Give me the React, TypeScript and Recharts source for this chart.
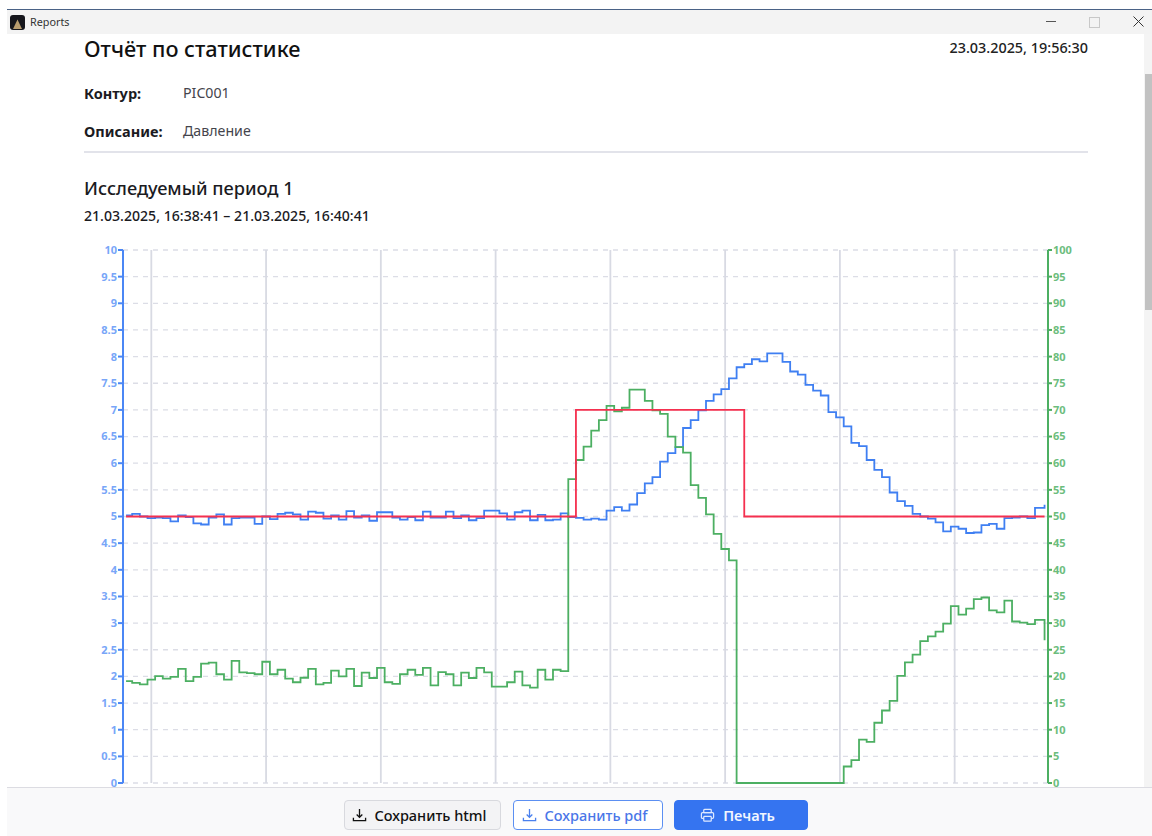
import React from "react";
import { LineChart, Line, XAxis, YAxis, CartesianGrid } from "recharts";

const font = '"Noto Sans", sans-serif';

const pressure = [
  5.02, 5.05, 5.0, 4.97, 4.98, 4.97, 4.91, 5.02, 4.99, 4.87,
  4.85, 4.98, 5.04, 4.85, 4.97, 4.98, 4.98, 4.86, 5.0, 4.95,
  5.05, 5.07, 5.04, 4.94, 5.09, 5.07, 4.96, 5.02, 4.94, 5.1,
  4.98, 5.02, 4.92, 5.08, 5.08, 4.98, 4.94, 4.99, 4.93, 5.09,
  4.98, 4.98, 5.09, 4.97, 5.02, 4.93, 4.97, 5.11, 5.11, 5.06,
  4.94, 5.08, 5.11, 4.93, 5.03, 4.93, 4.94, 5.06, 4.99, 4.975,
  4.94, 4.96, 4.94, 5.11, 5.175, 5.11, 5.225, 5.44, 5.62, 5.74,
  6.03, 6.19, 6.3, 6.66, 6.81, 6.99, 7.17, 7.29, 7.39, 7.59,
  7.8, 7.86, 7.95, 7.91, 8.06, 8.06, 7.9, 7.72, 7.66, 7.47,
  7.36, 7.27, 6.96, 6.86, 6.69, 6.38, 6.32, 6.06, 5.875, 5.74,
  5.45, 5.29, 5.2, 5.05, 5.0, 4.96, 4.89, 4.72, 4.81, 4.77,
  4.69, 4.7, 4.84, 4.86, 4.77, 4.97, 4.98, 5.0, 4.97, 5.16,
  5.22,
];

const output = [
  19.1, 18.8, 18.5, 19.4, 20.05, 19.6, 19.9, 21.4, 19.1, 19.9,
  22.4, 22.6, 20.4, 19.4, 22.9, 20.75, 20.6, 20.4, 22.75, 20.4,
  21.25, 19.6, 18.9, 19.75, 21.4, 18.5, 18.8, 21.1, 20.0, 21.4,
  18.2, 20.7, 19.7, 21.6, 18.9, 18.6, 20.4, 21.25, 20.3, 21.6,
  18.3, 20.8, 20.4, 18.3, 20.7, 19.7, 21.6, 20.75, 18.1, 18.1,
  18.9, 20.9, 18.3, 17.9, 21.25, 19.4, 21.25, 21.0, 57, 60.6,
  63.1, 66.1, 68.1, 70.75, 69.75, 70.4, 73.8, 73.8, 71.7, 69.9,
  69.25, 65, 63, 62, 55.9, 53.5, 50.4, 46.75, 43.9, 41.75,
  0, 0, 0, 0, 0, 0, 0, 0, 0, 0,
  0, 0, 0, 0, 3.1, 4.3, 8.15, 7.7, 11.3, 13.6,
  15.4, 20.1, 22.65, 24.1, 26.6, 27.5, 28.4, 29.9, 33.2, 31.6,
  32.7, 34.5, 34.8, 32.4, 32, 34.2, 30.3, 30.1, 29.8, 30.6,
  26.8,
];

const setpoint = [
  5, 5, 5, 5, 5, 5, 5, 5, 5, 5, 5, 5, 5, 5, 5, 5, 5, 5, 5, 5,
  5, 5, 5, 5, 5, 5, 5, 5, 5, 5, 5, 5, 5, 5, 5, 5, 5, 5, 5, 5,
  5, 5, 5, 5, 5, 5, 5, 5, 5, 5, 5, 5, 5, 5, 5, 5, 5, 5, 5, 7,
  7, 7, 7, 7, 7, 7, 7, 7, 7, 7, 7, 7, 7, 7, 7, 7, 7, 7, 7, 7,
  7, 5, 5, 5, 5, 5, 5, 5, 5, 5, 5, 5, 5, 5, 5, 5, 5, 5, 5, 5,
  5, 5, 5, 5, 5, 5, 5, 5, 5, 5, 5, 5, 5, 5, 5, 5, 5, 5, 5, 5,
  5,
];

const leftTicks = [0, 0.5, 1, 1.5, 2, 2.5, 3, 3.5, 4, 4.5, 5, 5.5, 6, 6.5, 7, 7.5, 8, 8.5, 9, 9.5, 10];
const rightTicks = [0, 5, 10, 15, 20, 25, 30, 35, 40, 45, 50, 55, 60, 65, 70, 75, 80, 85, 90, 95, 100];
const timeTicks = [3.7, 18.7, 33.7, 48.7, 63.7, 78.7, 93.7, 108.7];
const timeLabels = ["16:38:45", "16:39:00", "16:39:15", "16:39:30", "16:39:45", "16:40:00", "16:40:15", "16:40:30"];

// samples come once a second, the first and last are cut short by the axis padding
const rows = pressure.map((p, i) => ({
  t: i === 0 ? 0.4 : i === 120 ? 120.45 : i + 0.2,
  pressure: p,
  output: output[i],
  setpoint: setpoint[i],
}));

function Txt({ x, y, size, weight, color, right, children }: any) {
  return (
    <div
      style={{
        position: "absolute",
        left: right ? undefined : x,
        right: right ? 1152 - x : undefined,
        top: y - 15,
        height: 30,
        lineHeight: "30px",
        fontSize: size,
        fontWeight: weight || 400,
        color: color || "#1b1b1f",
        whiteSpace: "nowrap",
      }}
    >
      {children}
    </div>
  );
}

function DownloadIcon({ color }: { color: string }) {
  return (
    <svg width="15" height="15" viewBox="0 0 16 16" fill="none" stroke={color} strokeWidth="1.4">
      <path d="M8 1V9.5M5 7l3 3 3-3" />
      <path d="M1.5 10.5V13.5H14.5V10.5" />
    </svg>
  );
}

function PrintIcon() {
  return (
    <svg width="15" height="15" viewBox="0 0 16 16" fill="none" stroke="#dfe9ff" strokeWidth="1.3">
      <rect x="4" y="1.5" width="8" height="3.5" rx="0.8" />
      <rect x="1.5" y="5" width="13" height="6" rx="1.2" />
      <rect x="4" y="9" width="8" height="5" rx="0.8" fill="#3574f0" />
    </svg>
  );
}

function Btn({ x, w, bg, border, color, weight, icon, children }: any) {
  return (
    <div
      style={{
        position: "absolute",
        left: x,
        top: 800,
        width: w,
        height: 30,
        boxSizing: "border-box",
        paddingRight: 7,
        background: bg,
        border: `1px solid ${border}`,
        borderRadius: 4,
        color,
        fontSize: 14.5,
        fontWeight: weight,
        display: "flex",
        alignItems: "center",
        justifyContent: "center",
        gap: 8,
      }}
    >
      {icon}
      <span>{children}</span>
    </div>
  );
}

export default function App() {
  return (
    <div
      style={{
        position: "fixed",
        left: 0,
        top: 0,
        width: 1152,
        height: 836,
        overflow: "hidden",
        background: "#fff",
        fontFamily: font,
      }}
    >
      {/* window title bar */}
      <div style={{ position: "absolute", left: 7, top: 9, width: 1145, height: 1, background: "#4a6286" }} />
      <div style={{ position: "absolute", left: 7, top: 10, width: 1145, height: 24, background: "#f3f3f3" }} />
      <div style={{ position: "absolute", left: 10, top: 15, width: 15, height: 15, borderRadius: 3, background: "#15161c" }}>
        <svg width="15" height="15" viewBox="0 0 15 15">
          <path d="M7.5 2.5L12 12H3z" fill="#b79c6e" />
        </svg>
      </div>
      <Txt x={30} y={22} size={10.8} color="#333">Reports</Txt>
      <div style={{ position: "absolute", left: 1046, top: 21, width: 10, height: 1, background: "#555" }} />
      <div style={{ position: "absolute", left: 1089, top: 17, width: 9, height: 9, border: "1px solid #c8c8c8" }} />
      <svg style={{ position: "absolute", left: 1133, top: 16 }} width="11" height="11" viewBox="0 0 11 11" stroke="#333" strokeWidth="1">
        <path d="M0.5 0.5L10.5 10.5M10.5 0.5L0.5 10.5" />
      </svg>

      {/* scrollbar */}
      <div style={{ position: "absolute", left: 1144, top: 34, width: 8, height: 754, background: "#f4f4f4" }} />
      <div style={{ position: "absolute", left: 1145, top: 74, width: 7, height: 236, background: "#c2c2c2" }} />

      {/* report header */}
      <Txt x={84} y={49} size={21.7} weight={500} color="#111">Отчёт по статистике</Txt>
      <Txt x={1088} y={48} size={14.4} weight={500} color="#222" right>23.03.2025, 19:56:30</Txt>
      <Txt x={84} y={93} size={14.5} weight={700}>Контур:</Txt>
      <Txt x={183} y={93} size={14.2} color="#44444c">PIC001</Txt>
      <Txt x={84} y={131} size={14.5} weight={700}>Описание:</Txt>
      <Txt x={183} y={131} size={14.2} color="#44444c">Давление</Txt>
      <div style={{ position: "absolute", left: 84, top: 151, width: 1004, height: 2, background: "#e2e3ea" }} />
      <Txt x={84} y={188} size={18.2} weight={500}>Исследуемый период 1</Txt>
      <Txt x={84} y={216} size={14.1} weight={500}>21.03.2025, 16:38:41 – 21.03.2025, 16:40:41</Txt>

      {/* chart */}
      <div style={{ position: "absolute", left: 84, top: 240 }}>
        <LineChart
          width={1004}
          height={600}
          data={rows}
          margin={{ top: 10, right: 0, bottom: 27, left: 0 }}
        >
          <CartesianGrid
            yAxisId="left"
            vertical={false}
            stroke="#dcdde6"
            strokeWidth={1.3}
            strokeDasharray="5 5"
          />
          <CartesianGrid
            horizontal={false}
            stroke="#d8dae3"
            strokeWidth={1.8}
          />
          <XAxis
            dataKey="t"
            type="number"
            domain={[0, 120.9]}
            ticks={timeTicks}
            tickFormatter={(v: number) => timeLabels[timeTicks.indexOf(v)]}
            height={30}
            axisLine={false}
            tickLine={false}
            tick={{ fontSize: 11, fill: "#777" }}
          />
          <YAxis
            yAxisId="left"
            orientation="left"
            width={39}
            domain={[0, 10]}
            ticks={leftTicks}
            interval={0}
            tickSize={5}
            tickMargin={1}
            axisLine={{ stroke: "#4b87f5", strokeWidth: 2 }}
            tickLine={{ stroke: "#4b87f5", strokeWidth: 2 }}
            tick={{ fontSize: 11, fontWeight: 700, fill: "#78a6f8" }}
          />
          <YAxis
            yAxisId="right"
            orientation="right"
            width={40}
            domain={[0, 100]}
            ticks={rightTicks}
            interval={0}
            tickSize={4}
            tickMargin={1}
            axisLine={{ stroke: "#4caf62", strokeWidth: 2 }}
            tickLine={{ stroke: "#4caf62", strokeWidth: 2 }}
            tick={{ fontSize: 11, fontWeight: 700, fill: "#6cbd7d" }}
          />
          <Line
            yAxisId="left"
            type="stepAfter"
            dataKey="pressure"
            stroke="#3f7ff2"
            strokeWidth={1.8}
            dot={false}
            isAnimationActive={false}
          />
          <Line
            yAxisId="right"
            type="stepAfter"
            dataKey="output"
            stroke="#4caf62"
            strokeWidth={1.8}
            dot={false}
            isAnimationActive={false}
          />
          <Line
            yAxisId="left"
            type="stepAfter"
            dataKey="setpoint"
            stroke="#f5304f"
            strokeWidth={1.8}
            dot={false}
            isAnimationActive={false}
          />
        </LineChart>
      </div>

      {/* footer */}
      <div
        style={{
          position: "absolute",
          left: 7,
          top: 787,
          width: 1145,
          height: 49,
          boxSizing: "border-box",
          borderTop: "1.5px solid #dcdce2",
          background: "#f9f9fa",
        }}
      />
      <Btn x={344} w={157} bg="#f3f3f5" border="#d8d9de" color="#111" weight={500} icon={<DownloadIcon color="#111" />}>
        Сохранить html
      </Btn>
      <Btn x={513} w={150} bg="#fff" border="#5b8ff2" color="#4a76e8" weight={500} icon={<DownloadIcon color="#4a80ee" />}>
        Сохранить pdf
      </Btn>
      <Btn x={674} w={134} bg="#3574f0" border="#3574f0" color="#f2f6ff" weight={600} icon={<PrintIcon />}>
        Печать
      </Btn>
    </div>
  );
}
